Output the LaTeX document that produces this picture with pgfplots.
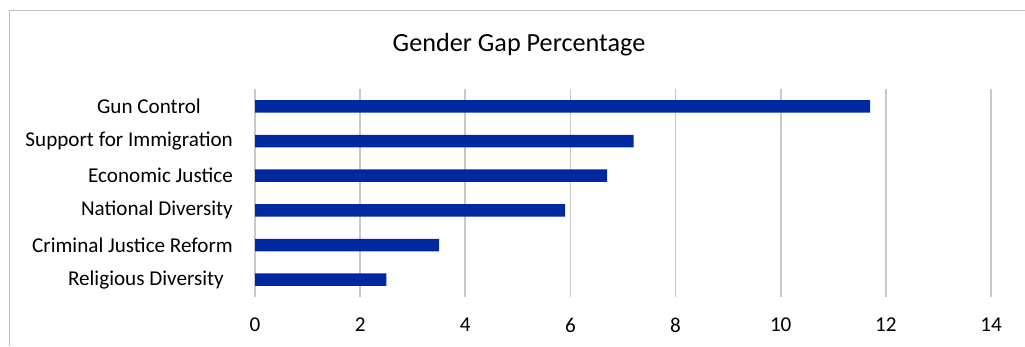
\documentclass[border=0pt]{standalone}
\usepackage{fontspec}
\setmainfont{Carlito}
\usepackage{pgfplots}
\pgfplotsset{compat=1.18}
\definecolor{barblue}{RGB}{0,40,160}
\definecolor{gridgray}{RGB}{200,200,200}
\definecolor{framegray}{RGB}{191,191,191}
\begin{document}
\begin{tikzpicture}[x=1bp,y=1bp]
\path[use as bounding box] (0,0) rectangle (1025,346);
\draw[framegray, line width=1.4bp] (9.5,0) -- (9.5,335.7) -- (1025,335.7);
\node[font=\fontsize{26.3}{31}\selectfont, anchor=center] at (519,301) {Gender Gap Percentage};
\begin{axis}[
  at={(255bp,49bp)}, anchor=south west,
  scale only axis, width=736bp, height=208bp,
  xbar, bar width=12.5bp,
  xmin=0, xmax=14, xtick={0,2,...,14},
  ymin=-0.5, ymax=5.5, y dir=reverse,
  ytick={0,1,2,3,4,5},
  yticklabels={Gun Control\hspace*{32bp}, Support for Immigration, Economic Justice, National Diversity, Criminal Justice Reform, Religious Diversity\hspace*{9bp}},
  axis line style={draw=none},
  tick style={draw=none}, major tick length=0pt,
  xmajorgrids, grid style={gridgray, line width=1.6bp},
  /pgf/number format/assume math mode=true,
  tick label style={font=\fontsize{21.2}{25}\selectfont},
  yticklabel style={anchor=east, inner sep=0pt, xshift=-22bp},
  xticklabel style={anchor=north, inner sep=0pt, yshift=-21bp},
]
\addplot[draw=none, fill=barblue] coordinates {(11.7,0) (7.2,1) (6.7,2) (5.9,3) (3.5,4) (2.5,5)};
\end{axis}
\end{tikzpicture}
\end{document}
